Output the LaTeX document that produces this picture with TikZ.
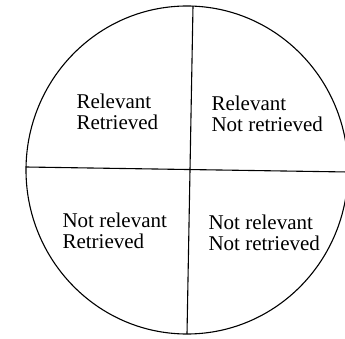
\documentclass[tikz,border=0pt]{standalone}
\usepackage{fontspec}
\setmainfont{Liberation Serif}
\begin{document}
\begin{tikzpicture}[x=1pt,y=-1pt,line width=1.1pt,
  lbl/.style={anchor=base west,inner sep=0pt,align=left,font=\fontsize{21}{21}\selectfont}]
\useasboundingbox (0,0) rectangle (345,339);
\draw (187,170) ellipse [x radius=161, y radius=164];
\coordinate (top) at (193,6);
\coordinate (bot) at (187,334);
\coordinate (lft) at (26,167);
\coordinate (rgt) at (348,172);
\draw (top) -- (bot);
\draw (lft) -- (rgt);
\node[lbl] (q1) at (76,130) {Relevant\\Retrieved};
\node[lbl] (q2) at (211,132) {Relevant\\Not retrieved};
\node[lbl] (q3) at (62,248) {Not relevant\\Retrieved};
\node[lbl] (q4) at (208,250) {Not relevant\\Not retrieved};
\end{tikzpicture}
\end{document}
